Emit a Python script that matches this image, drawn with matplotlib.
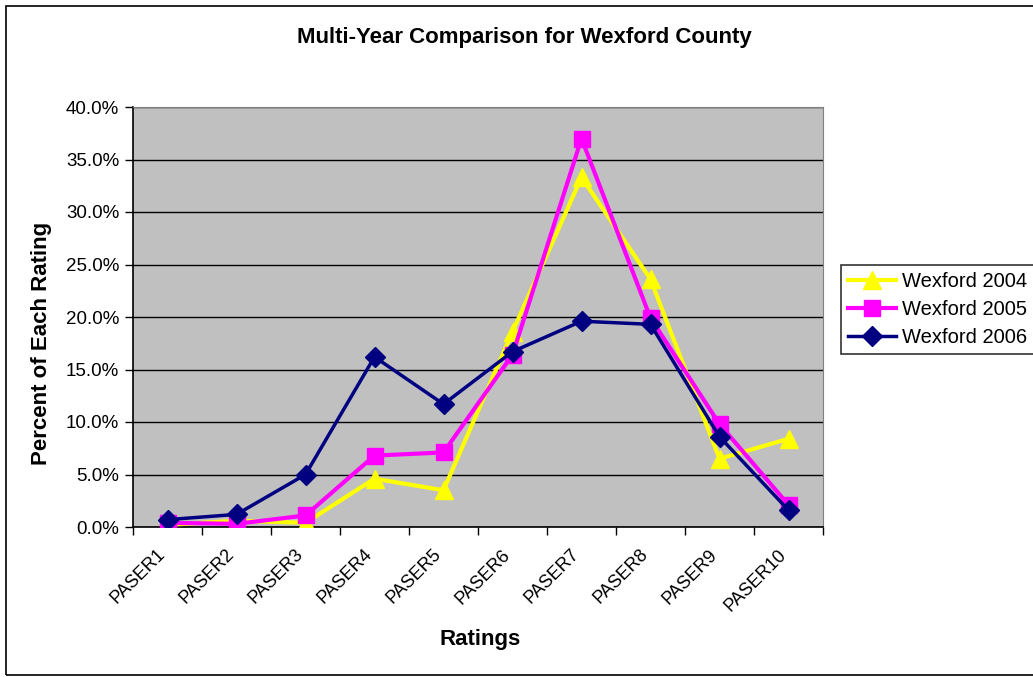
import numpy as np
import matplotlib.pyplot as plt
from matplotlib.patches import Rectangle
from matplotlib.ticker import FuncFormatter, FixedLocator
from matplotlib.transforms import ScaledTranslation

plt.rcParams['font.family'] = ['Liberation Sans', 'DejaVu Sans']

ratings = ['PASER1', 'PASER2', 'PASER3', 'PASER4', 'PASER5',
           'PASER6', 'PASER7', 'PASER8', 'PASER9', 'PASER10']
# percent of each rating per year
wex2004 = [0.2, 0.6, 0.4, 4.6, 3.5, 18.6, 33.3, 23.6, 6.5, 8.4]
wex2005 = [0.4, 0.3, 1.1, 6.8, 7.1, 16.4, 37.0, 19.9, 9.8, 2.1]
wex2006 = [0.7, 1.2, 5.0, 16.2, 11.7, 16.7, 19.6, 19.3, 8.6, 1.6]

fig = plt.figure(figsize=(10.33, 6.77), dpi=100)
ax = fig.add_axes([133/1033, 1-527/677, 690/1033, 420/677])

# outer chart frame
fig.patches.append(Rectangle((6/1033, 1-675/677), 1.1, 669/677,
                             transform=fig.transFigure, fill=False,
                             edgecolor='black', linewidth=1.2))

x = np.arange(len(ratings))
ax.plot(x, wex2004, color='#FFFF00', lw=3, marker='^', ms=13,
        label='Wexford 2004', zorder=3)
ax.plot(x, wex2005, color='#FF00FF', lw=3, marker='s', ms=11,
        label='Wexford 2005', zorder=4)
ax.plot(x, wex2006, color='#000080', lw=2.5, marker='D', ms=10,
        label='Wexford 2006', zorder=5)

ax.set_facecolor('#C0C0C0')
ax.set_xlim(-0.5, 9.5)
ax.set_ylim(0, 40)
ax.set_yticks(np.arange(0, 41, 5))
ax.yaxis.set_major_formatter(FuncFormatter(lambda v, p: '%.1f%%' % v))
ax.grid(axis='y', color='black', lw=1)
ax.set_axisbelow(True)

ax.set_xticks(x)
ax.set_xticklabels(ratings, rotation=45, ha='right', va='center',
                   rotation_mode='anchor', fontsize=13)
ax.tick_params(axis='x', which='major', length=0, pad=18)
# nudge rotated labels so they end just left of their category
shift = ScaledTranslation(-5/100, 0, fig.dpi_scale_trans)
for lab in ax.get_xticklabels():
    lab.set_transform(lab.get_transform() + shift)
ax.xaxis.set_minor_locator(FixedLocator(np.arange(-0.5, 10, 1)))
ax.tick_params(axis='x', which='minor', length=6, width=1, color='black')
ax.tick_params(axis='y', labelsize=13.5, length=6, width=1, pad=4)

for s in ['top', 'right']:
    ax.spines[s].set_color('#808080')
for s in ['left', 'bottom']:
    ax.spines[s].set_color('black')
    ax.spines[s].set_linewidth(1.2)

fig.text(524/1033, 1-38/677, 'Multi-Year Comparison for Wexford County',
         fontsize=16, fontweight='bold', ha='center', va='center')
fig.text(480/1033, 1-640/677, 'Ratings', fontsize=16, fontweight='bold',
         ha='center', va='center')
fig.text(42/1033, 1-343/677, 'Percent of Each Rating', fontsize=16,
         fontweight='bold', ha='center', va='center', rotation=90)

leg = ax.legend(loc='upper left', bbox_to_anchor=(1.026, 0.625), fontsize=14.5,
                frameon=True, fancybox=False, edgecolor='black',
                borderaxespad=0, handlelength=2.4, labelspacing=0.45,
                borderpad=0.35, handletextpad=0.3)
leg.get_frame().set_linewidth(1.2)

fig.savefig('out.png', dpi=100)
